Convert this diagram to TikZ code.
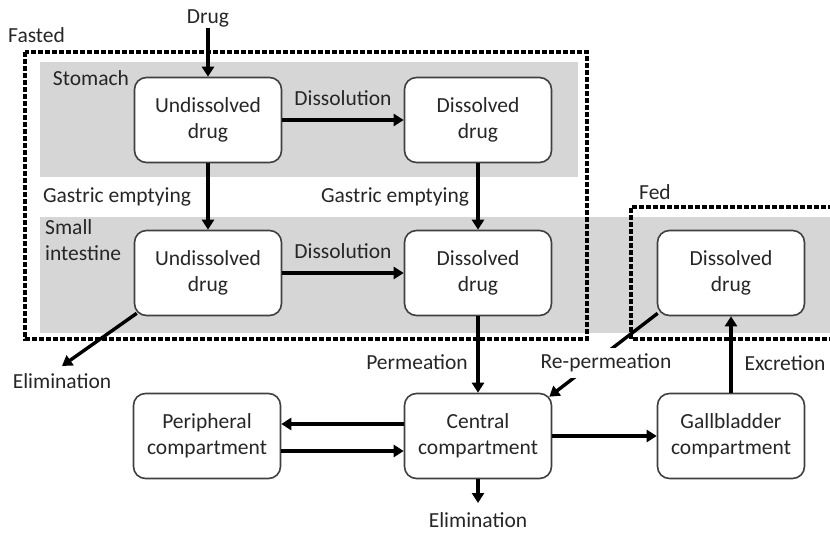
\documentclass[tikz,border=0pt]{standalone}
\usepackage{fontspec}
\setmainfont{Carlito}
\usetikzlibrary{arrows.meta}
\tikzset{
  box/.style={draw=black!75, line width=1.6pt, rounded corners=12pt, fill=white,
    minimum width=147pt, minimum height=85pt, align=center, inner sep=0pt,
    text=black!85},
  lbl/.style={text=black!85, inner sep=1pt},
  arr/.style={line width=3.4pt, draw=black, -{Triangle[length=10pt,width=12pt]}},
  fence/.style={line width=3.6pt, draw=black, dash pattern=on 5pt off 2pt},
  band/.style={fill=black!16},
}
\begin{document}
\begin{tikzpicture}[x=1pt,y=-1pt, font=\fontsize{21.5}{26}\selectfont]
\useasboundingbox (0,0) rectangle (830,535);
% grey bands
\fill[band] (40,62) rectangle (578,177);
\fill[band] (40,217) rectangle (830,333);
% dashed frames
\draw[fence] (25,52) rectangle (587,339);
\draw[fence] (840,207) -- (631,207) -- (631,339) -- (840,339);
% labels of regions
\node[lbl, anchor=west] (fasted) at (7,35) {Fasted};
\node[lbl, anchor=west] (fed) at (638,192) {Fed};
\node[lbl] (stomach) at (91,78) {Stomach};
\node[lbl, anchor=north west, align=left] (si) at (44,218) {Small\\intestine};
% boxes
\node[box] (u1) at (208,120) {Undissolved\\drug};
\node[box] (d1) at (478,120) {Dissolved\\drug};
\node[box] (u2) at (208,273) {Undissolved\\drug};
\node[box] (d2) at (478,273) {Dissolved\\drug};
\node[box] (f) at (731,273) {Dissolved\\drug};
\node[box] (p) at (207,436) {Peripheral\\compartment};
\node[box] (c) at (478,436) {Central\\compartment};
\node[box] (g) at (731,436) {Gallbladder\\compartment};
% Drug input
\node[lbl] (drug) at (208,18) {Drug};
\draw[arr] (drug) -- (u1);
% dissolution
\draw[arr] (u1) -- node[lbl, above=12pt] {Dissolution} (d1);
\draw[arr] (u2) -- node[lbl, above=12pt] {Dissolution} (d2);
% gastric emptying
\draw[arr] (u1) -- (u2);
\draw[arr] (d1) -- (d2);
\node[lbl] (ge1) at (117,197) {Gastric emptying};
\node[lbl] (ge2) at (395,197) {Gastric emptying};
% elimination from small intestine
\coordinate (e1) at (62,366);
\draw[arr] ([xshift=3pt,yshift=3pt]u2.south west) -- (e1);
\node[lbl] (elim1) at (62,381) {Elimination};
% permeation
\draw[arr] (d2) -- (c);
\node[lbl] (perm) at (417,362) {Permeation};
% re-permeation
\draw[arr] ([xshift=1pt,yshift=3pt]f.south west) -- ([xshift=-3pt,yshift=-4pt]c.north east);
\node[lbl, fill=white, inner ysep=6pt] (reperm) at (606,363) {Re-permeation};
% excretion
\draw[arr] (g) -- (f);
\node[lbl] (excr) at (785,363) {Excretion};
% peripheral exchange
\draw[arr] ([yshift=12pt]c.west) -- ([yshift=12pt]p.east);
\draw[arr] ([yshift=-15pt]p.east) -- ([yshift=-15pt]c.west);
% central to gallbladder
\draw[arr] (c) -- (g);
% elimination from central
\coordinate (e2) at (478,503);
\draw[arr] (c) -- (e2);
\node[lbl, inner sep=0pt] (elim2) at (478,520) {Elimination};
\end{tikzpicture}
\end{document}
